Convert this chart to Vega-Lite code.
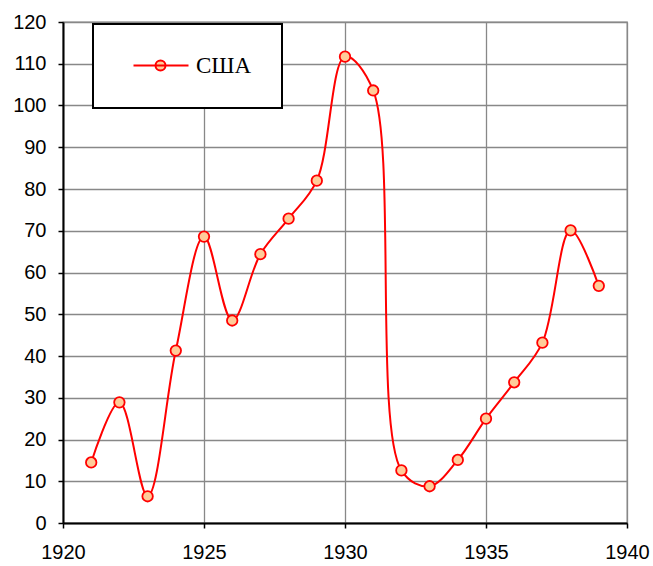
{
  "$schema": "https://vega.github.io/schema/vega-lite/v6.json",
  "width": 564,
  "height": 501,
  "autosize": {"type": "none"},
  "padding": {"left": 63, "top": 22, "right": 26, "bottom": 43},
  "background": "white",
  "config": {
    "view": {"stroke": "#888888", "strokeWidth": 1.3},
    "axis": {
      "labelFont": "Liberation Sans",
      "labelFontSize": 20,
      "labelColor": "black",
      "domainColor": "black",
      "domainWidth": 2,
      "tickColor": "black",
      "tickWidth": 1.5,
      "tickSize": 5,
      "gridColor": "#888888",
      "gridWidth": 1.3,
      "title": null
    }
  },
  "data": {
    "values": [
      {"year": 1921, "value": 14.5, "country": "США"},
      {"year": 1922, "value": 28.9, "country": "США"},
      {"year": 1923, "value": 6.4, "country": "США"},
      {"year": 1924, "value": 41.3, "country": "США"},
      {"year": 1925, "value": 68.6, "country": "США"},
      {"year": 1926, "value": 48.5, "country": "США"},
      {"year": 1927, "value": 64.4, "country": "США"},
      {"year": 1928, "value": 72.9, "country": "США"},
      {"year": 1929, "value": 82.0, "country": "США"},
      {"year": 1930, "value": 111.7, "country": "США"},
      {"year": 1931, "value": 103.6, "country": "США"},
      {"year": 1932, "value": 12.6, "country": "США"},
      {"year": 1933, "value": 8.8, "country": "США"},
      {"year": 1934, "value": 15.1, "country": "США"},
      {"year": 1935, "value": 25.0, "country": "США"},
      {"year": 1936, "value": 33.7, "country": "США"},
      {"year": 1937, "value": 43.2, "country": "США"},
      {"year": 1938, "value": 70.1, "country": "США"},
      {"year": 1939, "value": 56.8, "country": "США"}
    ]
  },
  "encoding": {
    "x": {
      "field": "year",
      "type": "quantitative",
      "scale": {"domain": [1920, 1940], "nice": false, "zero": false},
      "axis": {"values": [1920, 1925, 1930, 1935, 1940], "format": "d", "labelPadding": 14, "labelFlush": false}
    },
    "y": {
      "field": "value",
      "type": "quantitative",
      "scale": {"domain": [0, 120], "nice": false},
      "axis": {"values": [0, 10, 20, 30, 40, 50, 60, 70, 80, 90, 100, 110, 120], "labelPadding": 12}
    }
  },
  "layer": [
    {
      "mark": {"type": "line", "interpolate": "catmull-rom", "strokeWidth": 2},
      "encoding": {
        "stroke": {
          "field": "country",
          "type": "nominal",
          "scale": {"range": ["red"]},
          "legend": {
            "title": null,
            "orient": "none",
            "legendX": 30,
            "legendY": 2,
            "padding": 30,
            "strokeColor": "black",
            "fillColor": "white",
            "symbolType": "M-5.4,0L5.6,0M-1,0A1,1,0,1,0,1,0A1,1,0,1,0,-1,0Z",
            "symbolSize": 100,
            "symbolStrokeWidth": 2,
            "symbolFillColor": "#FFCC99",
            "symbolStrokeColor": "red",
            "symbolOffset": 26,
            "labelOffset": 24,
            "labelFont": "Liberation Serif",
            "labelFontSize": 23,
            "labelColor": "black",
            "encode": {"legend": {"update": {"strokeWidth": {"value": 2}}}, "symbols": {"update": {"fill": {"value": "#FFCC99"}, "stroke": {"value": "red"}}}}
          }
        }
      }
    },
    {
      "mark": {"type": "point", "filled": true, "fill": "#FFCC99", "stroke": "red", "strokeWidth": 1.8, "size": 110, "opacity": 1}
    }
  ]
}
